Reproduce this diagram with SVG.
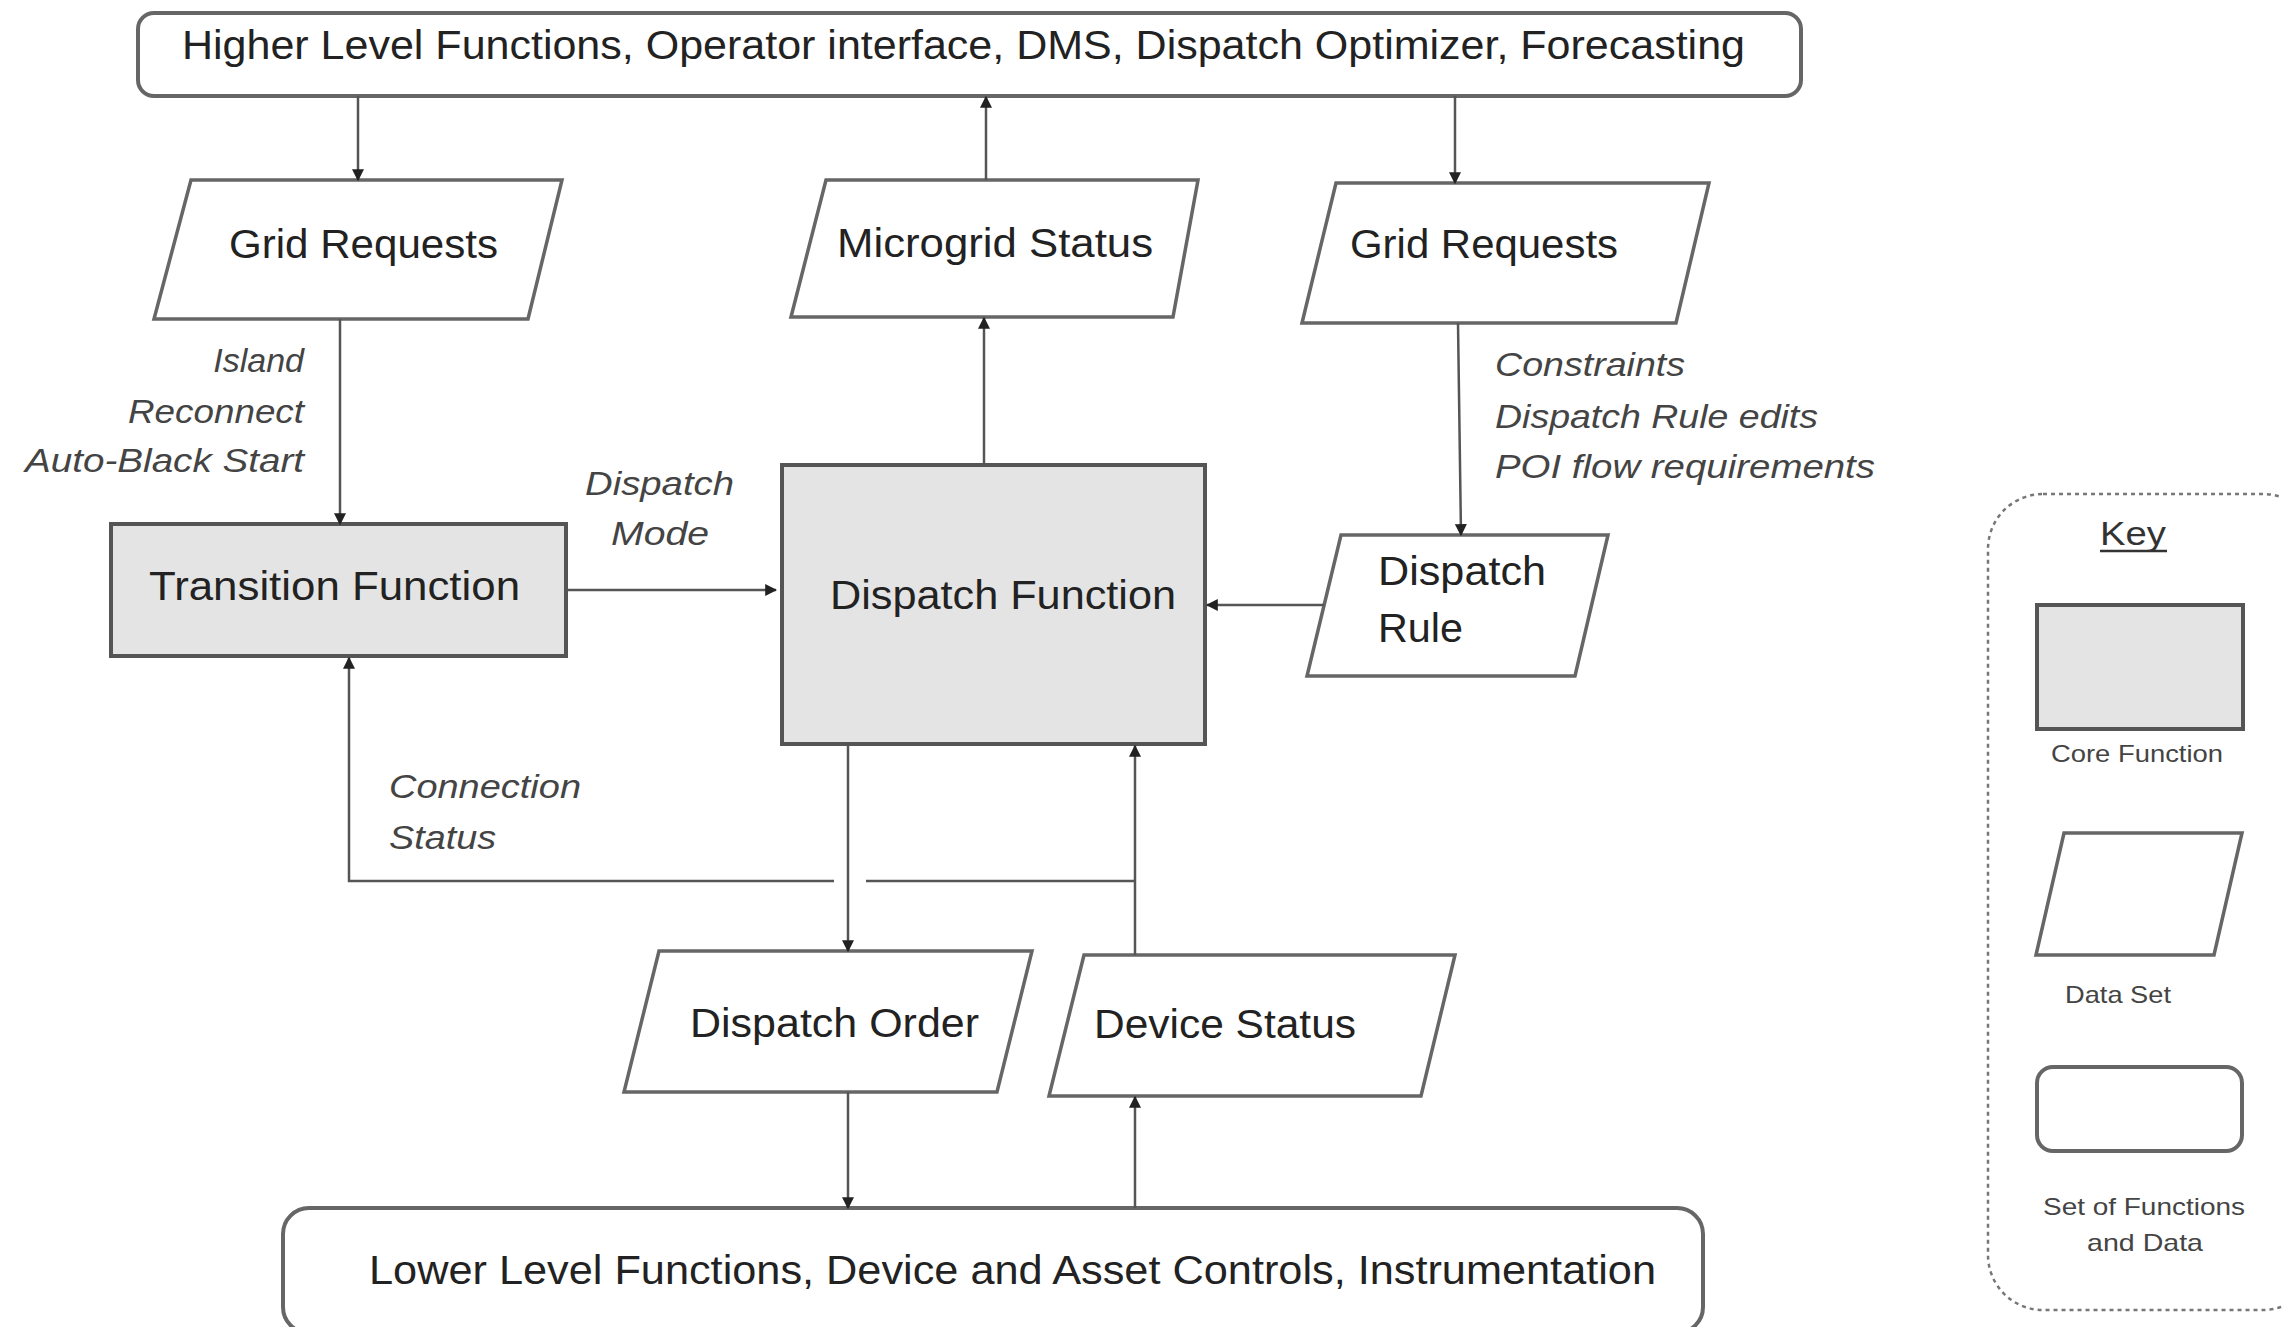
<svg xmlns="http://www.w3.org/2000/svg" width="2282" height="1327" viewBox="0 0 2282 1327">
<style>
.set{fill:#fff;stroke:#666;stroke-width:4}
.core{fill:#e4e4e4;stroke:#555;stroke-width:4}
.data{fill:#fff;stroke:#666;stroke-width:3.5}
.t{font-family:"Liberation Sans",Arial,sans-serif;font-size:40px;fill:#222}
.i{font-family:"Liberation Sans",Arial,sans-serif;font-size:34px;font-style:italic;fill:#444}
.k{font-family:"Liberation Sans",Arial,sans-serif;font-size:24px;fill:#444}
.c{fill:none;stroke:#555;stroke-width:2.5}
</style>
<defs>
<marker id="ah" viewBox="0 0 10 10" refX="9" refY="5" markerWidth="12" markerHeight="12" markerUnits="userSpaceOnUse" orient="auto">
<path d="M0,0 L10,5 L0,10 z" fill="#222"/>
</marker>
</defs>
<rect width="2282" height="1327" fill="#fff"/>

<g id="higher">
<rect class="set" x="138" y="13" width="1663" height="83" rx="16"/>
<text class="t" x="182" y="59" textLength="1563" lengthAdjust="spacingAndGlyphs">Higher Level Functions, Operator interface, DMS, Dispatch Optimizer, Forecasting</text>
</g>

<g id="grid-requests-left">
<polygon class="data" points="191,180 562,180 528,319 154,319"/>
<text class="t" x="229" y="258" textLength="269" lengthAdjust="spacingAndGlyphs">Grid Requests</text>
</g>

<g id="microgrid-status">
<polygon class="data" points="826,180 1198,180 1173,317 791,317"/>
<text class="t" x="837" y="257" textLength="316" lengthAdjust="spacingAndGlyphs">Microgrid Status</text>
</g>

<g id="grid-requests-right">
<polygon class="data" points="1336,183 1709,183 1676,323 1302,323"/>
<text class="t" x="1350" y="258" textLength="268" lengthAdjust="spacingAndGlyphs">Grid Requests</text>
</g>

<g id="transition-function">
<rect class="core" x="111" y="524" width="455" height="132"/>
<text class="t" x="149" y="600" textLength="371" lengthAdjust="spacingAndGlyphs">Transition Function</text>
</g>

<g id="dispatch-function">
<rect class="core" x="782" y="465" width="423" height="279"/>
<text class="t" x="830" y="609" textLength="346" lengthAdjust="spacingAndGlyphs">Dispatch Function</text>
</g>

<g id="dispatch-rule">
<polygon class="data" points="1341,535 1608,535 1575,676 1307,676"/>
<text class="t" x="1378" y="585" textLength="168" lengthAdjust="spacingAndGlyphs">Dispatch</text>
<text class="t" x="1378" y="642" textLength="85" lengthAdjust="spacingAndGlyphs">Rule</text>
</g>

<g id="dispatch-order">
<polygon class="data" points="659,951 1032,951 997,1092 624,1092"/>
<text class="t" x="690" y="1037" textLength="289" lengthAdjust="spacingAndGlyphs">Dispatch Order</text>
</g>

<g id="device-status">
<polygon class="data" points="1084,955 1455,955 1421,1096 1049,1096"/>
<text class="t" x="1094" y="1038" textLength="262" lengthAdjust="spacingAndGlyphs">Device Status</text>
</g>

<g id="lower">
<rect class="set" x="283" y="1208" width="1420" height="125" rx="26"/>
<text class="t" x="369" y="1284" textLength="1287" lengthAdjust="spacingAndGlyphs">Lower Level Functions, Device and Asset Controls, Instrumentation</text>
</g>

<g id="connectors">
<path class="c" d="M358,96 V180" marker-end="url(#ah)"/>
<path class="c" d="M986,180 V97" marker-end="url(#ah)"/>
<path class="c" d="M1455,96 V183" marker-end="url(#ah)"/>
<path class="c" d="M984,465 V318" marker-end="url(#ah)"/>
<path class="c" d="M340,319 V524" marker-end="url(#ah)"/>
<path class="c" d="M1458,323 L1461,535" marker-end="url(#ah)"/>
<path class="c" d="M1324,605 H1207" marker-end="url(#ah)"/>
<path class="c" d="M566,590 H776" marker-end="url(#ah)"/>
<path class="c" d="M848,744 V951" marker-end="url(#ah)"/>
<path class="c" d="M848,1092 V1208" marker-end="url(#ah)"/>
<path class="c" d="M1135,1208 V1097" marker-end="url(#ah)"/>
<path class="c" d="M1135,955 V746" marker-end="url(#ah)"/>
<path class="c" d="M1135,881 H866 M834,881 H349 V658" marker-end="url(#ah)"/>
</g>

<g id="labels">
<text class="i" x="304" y="372" text-anchor="end">Island</text>
<text class="i" x="128" y="423" textLength="176" lengthAdjust="spacingAndGlyphs">Reconnect</text>
<text class="i" x="25" y="472" textLength="279" lengthAdjust="spacingAndGlyphs">Auto-Black Start</text>
<text class="i" x="585" y="495" textLength="149" lengthAdjust="spacingAndGlyphs">Dispatch</text>
<text class="i" x="611" y="545" textLength="98" lengthAdjust="spacingAndGlyphs">Mode</text>
<text class="i" x="1495" y="376" textLength="190" lengthAdjust="spacingAndGlyphs">Constraints</text>
<text class="i" x="1495" y="428" textLength="323" lengthAdjust="spacingAndGlyphs">Dispatch Rule edits</text>
<text class="i" x="1495" y="478" textLength="380" lengthAdjust="spacingAndGlyphs">POI flow requirements</text>
<text class="i" x="389" y="798" textLength="192" lengthAdjust="spacingAndGlyphs">Connection</text>
<text class="i" x="389" y="849" textLength="107" lengthAdjust="spacingAndGlyphs">Status</text>
</g>

<g id="key">
<rect x="1988" y="494" width="330" height="816" rx="55" fill="none" stroke="#777" stroke-width="2.5" stroke-dasharray="4 4"/>
<text x="2100" y="545" font-family="Liberation Sans, Arial, sans-serif" font-size="34" fill="#333" textLength="66" lengthAdjust="spacingAndGlyphs">Key</text>
<line x1="2100" y1="551" x2="2167" y2="551" stroke="#333" stroke-width="2.5"/>
<rect class="core" x="2037" y="605" width="206" height="124"/>
<text class="k" x="2051" y="762" textLength="172" lengthAdjust="spacingAndGlyphs">Core Function</text>
<polygon class="data" points="2064,833 2242,833 2214,955 2036,955"/>
<text class="k" x="2065" y="1003" textLength="106" lengthAdjust="spacingAndGlyphs">Data Set</text>
<rect class="set" x="2037" y="1067" width="205" height="84" rx="16"/>
<text class="k" x="2043" y="1215" textLength="202" lengthAdjust="spacingAndGlyphs">Set of Functions</text>
<text class="k" x="2087" y="1251" textLength="116" lengthAdjust="spacingAndGlyphs">and Data</text>
</g>
</svg>
